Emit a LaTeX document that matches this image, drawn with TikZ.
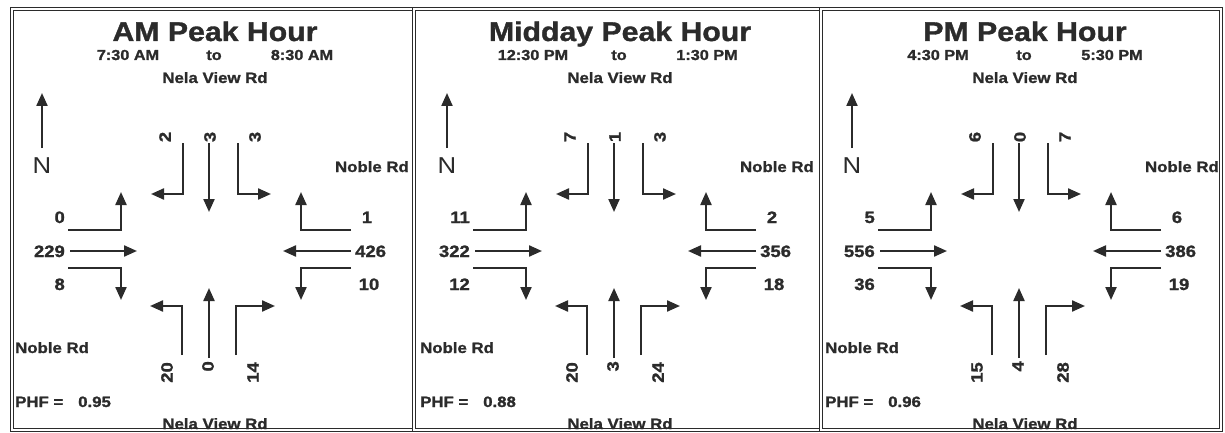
\documentclass[tikz,border=0pt]{standalone}
\usepackage{fontspec}
\setmainfont{Liberation Sans}[FakeStretch=1.12,BoldFeatures={FakeBold=1.3}]
\usepackage{xcolor}
\definecolor{tcink}{HTML}{2B2B2B}
\usetikzlibrary{arrows.meta}

\begin{document}
\begin{tikzpicture}[x=1pt,y=-1pt,>={Triangle[length=13pt,width=11pt]}]
\tikzset{
 ttl/.style={font=\bfseries\fontsize{27}{29}\selectfont,text=tcink,inner sep=0pt,anchor=base},
 sub/.style={font=\bfseries\fontsize{14.5}{16}\selectfont,text=tcink,inner sep=0pt,anchor=base},
 rd/.style={font=\bfseries\fontsize{15}{17}\selectfont,text=tcink,inner sep=0pt},
 lbl/.style={font=\bfseries\fontsize{16.5}{18}\selectfont,text=tcink,inner sep=0pt},
 mv/.style={->,line width=2.2pt,draw=tcink},
 panel/.style={draw=tcink,double,double distance=2pt,line width=1.3pt}
}
\useasboundingbox (0,0) rectangle (1225,433);
\foreach \xa/\xb in {12/414,414/821,821/1221}{\draw[panel] (\xa,9) rectangle (\xb,430);}
\foreach \ox/\hd/\ta/\tb/\sa/\sb/\sc/\ea/\eb/\ec/\wa/\wb/\wc/\na/\nb/\nc/\phf in {
 0/AM/7:30 AM/8:30 AM/2/3/3/0/229/8/1/426/10/20/0/14/0.95,
 405/Midday/12:30 PM/1:30 PM/7/1/3/11/322/12/2/356/18/20/3/24/0.88,
 810/PM/4:30 PM/5:30 PM/6/0/7/5/556/36/6/386/19/15/4/28/0.96}{
\begin{scope}[xshift=\ox pt]
\node[ttl] (hd\ox) at (215,41) {\hd\ Peak Hour};
\node[sub] (from\ox) at (128,60) {\ta};
\node[sub] (to\ox) at (214,60) {to};
\node[sub] (till\ox) at (302,60) {\tb};
\node[rd,anchor=base] (nv\ox) at (215,83) {Nela View Rd};
\node[rd,anchor=base] (sv\ox) at (215,429) {Nela View Rd};
\node[rd,anchor=base east] (er\ox) at (409,172) {Noble Rd};
\node[rd,anchor=base west] (wr\ox) at (15,353) {Noble Rd};
\node[rd,anchor=base west] (phf\ox) at (15,407) {PHF =};
\node[rd,anchor=base west] (phv\ox) at (78,407) {\phf};
\node[font=\fontsize{23}{25}\selectfont,text=tcink,inner sep=0pt,anchor=base] (nn\ox) at (42,173) {N};
\coordinate (nt\ox) at (42,93);
\draw[mv] (42,148) -- (nt\ox);
\node[lbl,rotate=90] (s1\ox) at (165,137) {\sa};
\node[lbl,rotate=90] (s2\ox) at (210,137) {\sb};
\node[lbl,rotate=90] (s3\ox) at (255,137) {\sc};
\node[lbl,anchor=base east] (e1\ox) at (65,223) {\ea};
\node[lbl,anchor=base east] (e2\ox) at (65,257) {\eb};
\node[lbl,anchor=base east] (e3\ox) at (65,290) {\ec};
\node[lbl,anchor=base] (w1\ox) at (367,223) {\wa};
\node[lbl,anchor=base west] (w2\ox) at (355,257) {\wb};
\node[lbl,anchor=base] (w3\ox) at (369,290) {\wc};
\node[lbl,rotate=90,anchor=east] (n1\ox) at (167,362) {\na};
\node[lbl,rotate=90,anchor=east] (n2\ox) at (208,361) {\nb};
\node[lbl,rotate=90,anchor=east] (n3\ox) at (253,362) {\nc};
\draw[mv] (183,143) |- (151,194);
\draw[mv] (209,143) -- (209,212);
\draw[mv] (238,143) |- (271,194);
\draw[mv] (68,230) -| (121,192);
\draw[mv] (70,251) -- (137,251);
\draw[mv] (68,268) -| (121,300);
\draw[mv] (351,230) -| (301,192);
\draw[mv] (351,251) -- (283,251);
\draw[mv] (351,268) -| (301,300);
\draw[mv] (182,355) |- (150,306);
\draw[mv] (209,358) -- (209,288);
\draw[mv] (236,355) |- (275,306);
\end{scope}
}
\end{tikzpicture}
\end{document}
